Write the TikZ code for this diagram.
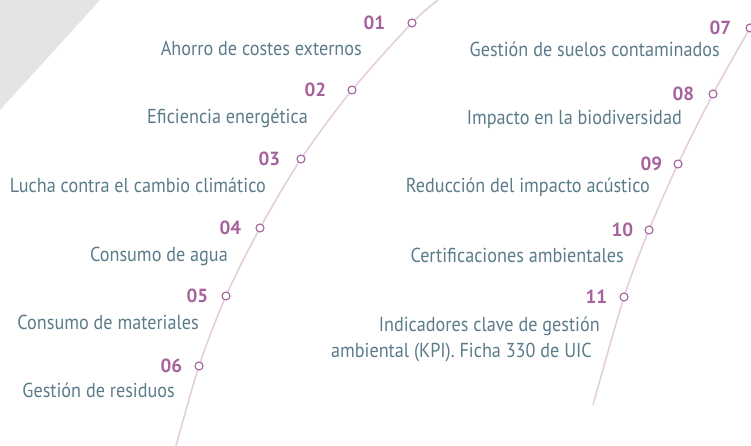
\documentclass[tikz,border=0pt]{standalone}
\usepackage{fontspec}
\setmainfont[FakeStretch=0.9]{PT Sans}
\newfontfamily\numfont{PT Sans}
\usetikzlibrary{positioning}
\usetikzlibrary{backgrounds}

\definecolor{slate}{HTML}{5A7B8A}
\definecolor{plum}{HTML}{A5629C}
\definecolor{lilac}{HTML}{E3CDE0}
\definecolor{mist}{HTML}{E3E4E6}

\begin{document}
\begin{tikzpicture}[
x=1pt, y=-1pt,
ring/.style ={circle, draw=plum, line width=1.1pt, fill=white,
  inner sep=0pt, minimum size=8pt
},
num/.style ={text=plum, inner sep=0pt,
  font=\numfont\fontsize{19}{21}\selectfont\bfseries},
item/.style ={text=slate, inner sep=0pt, anchor=base east,
  font=\fontsize{20.2}{22}\selectfont},
rail/.style ={draw=lilac, line width=1.6pt}
]
\useasboundingbox (0,0) rectangle (751,446);

% stops, left rail
\node[ring] (c01) at (412,23) {};
\node[ring] (c02) at (352,90) {};
\node[ring] (c03) at (301,159) {};
\node[ring] (c04) at (260,228) {};
\node[ring] (c05) at (226,296) {};
\node[ring] (c06) at (199,366) {};
\coordinate (top1) at (438,0);
\coordinate (end1) at (176,446);

% stops, right rail
\node[ring] (c07) at (750,28) {};
\node[ring] (c08) at (713,94) {};
\node[ring] (c09) at (678,164) {};
\node[ring] (c10) at (649,230) {};
\node[ring] (c11) at (624,297) {};
\coordinate (top2) at (767,-2);
\coordinate (end2) at (593,405);

\node[num] (n01) [left=22pt of c01] {01};
\node[num] (n02) [left=21pt of c02] {02};
\node[num] (n03) [left=16pt of c03] {03};
\node[num] (n04) [left=14pt of c04] {04};
\node[num] (n05) [left=13pt of c05] {05};
\node[num] (n06) [left=12pt of c06] {06};
\node[num] (n07) [left=14pt of c07] {07};
\node[num] (n08) [left=14pt of c08] {08};
\node[num] (n09) [left=11pt of c09] {09};
\node[num] (n10) [left=11pt of c10] {10};
\node[num] (n11) [left=12pt of c11] {11};

\node[item] (t01) at (362,56) {Ahorro de costes externos};
\node[item] (t02) at (308,124) {Eficiencia energética};
\node[item] (t03) at (266,193) {Lucha contra el cambio climático};
\node[item] (t04) at (228,261) {Consumo de agua};
\node[item] (t05) at (199,329) {Consumo de materiales};
\node[item] (t06) at (175,397) {Gestión de residuos};
\node[item] (t07) at (720,57) {Gestión de suelos contaminados};
\node[item] (t08) at (682,125) {Impacto en la biodiversidad};
\node[item] (t09) at (650,193) {Reducción del impacto acústico};
\node[item] (t10) at (624,262) {Certificaciones ambientales};
\node[item] (t11) at (600,331) {Indicadores clave de gestión};
\node[item] (t11b) at (592,357) {ambiental (KPI). Ficha 330 de UIC};

\begin{scope}[on background layer]
\fill[mist] (0,0) -- (100,0) .. controls (62,42) .. (0,110) -- cycle;
\draw[rail] plot[smooth] coordinates {(top1) (c01) (c02) (c03) (c04) (c05) (c06) (end1)};
\draw[rail] plot[smooth] coordinates {(top2) (c07) (c08) (c09) (c10) (c11) (end2)};
\end{scope}
\end{tikzpicture}
\end{document}
